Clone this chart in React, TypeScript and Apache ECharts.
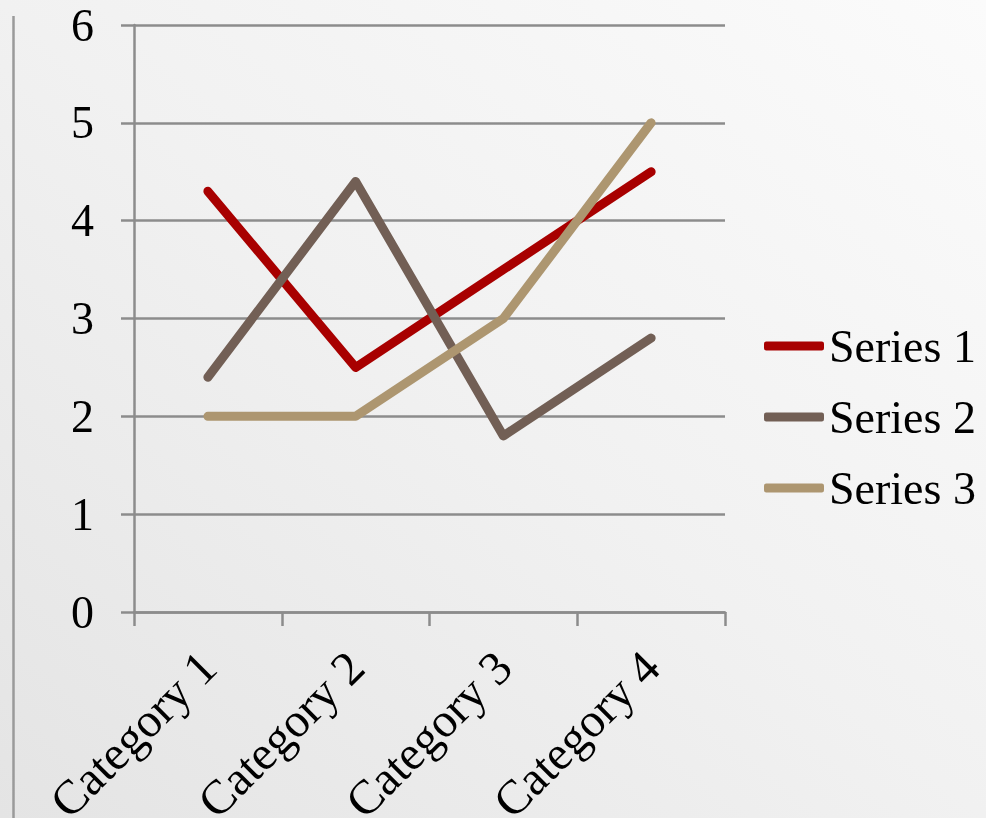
import React, { useEffect, useRef } from "react";
import * as echarts from "echarts";

const categories = ["Category 1", "Category 2", "Category 3", "Category 4"];
const series1 = [4.3, 2.5, 3.5, 4.5];
const series2 = [2.4, 4.4, 1.8, 2.8];
const series3 = [2, 2, 3, 5];
const seriesNames = ["Series 1", "Series 2", "Series 3"];
const seriesColors = ["#a80000", "#725f55", "#ad9670"];

const FONT = "'Liberation Serif', 'Times New Roman', serif";
const AXIS_GRAY = "#8c8c8c";

export default function App() {
  const ref = useRef<HTMLDivElement>(null);

  useEffect(() => {
    if (!ref.current) return;
    const chart = echarts.init(ref.current, undefined, { renderer: "svg" });
    const values = [series1, series2, series3];

    chart.setOption({
      animation: false,
      graphic: [
        {
          type: "rect",
          z: -10,
          silent: true,
          shape: { x: 0, y: 0, width: 986, height: 818 },
          style: {
            fill: new echarts.graphic.LinearGradient(1, 0, 0, 1, [
              { offset: 0, color: "#fbfbfb" },
              { offset: 0.5, color: "#f1f1f1" },
              { offset: 1, color: "#e4e4e4" },
            ]),
          },
        },
        {
          type: "line",
          silent: true,
          shape: { x1: 13.5, y1: 16, x2: 13.5, y2: 818 },
          style: { stroke: "#9a9a9a", lineWidth: 2.5 },
        },
      ],
      grid: {
        left: 134,
        right: 261,
        top: 25,
        bottom: 206,
        containLabel: false,
        outerBoundsMode: "none",
      },
      legend: {
        orient: "vertical",
        left: 764,
        top: 323,
        padding: 0,
        itemWidth: 60,
        itemHeight: 9,
        itemGap: 25,
        data: seriesNames.map((n, i) => ({
          name: n,
          icon: "roundRect",
          itemStyle: { color: seriesColors[i] },
        })),
        textStyle: { fontFamily: FONT, fontSize: 46, color: "#000" },
      },
      xAxis: {
        type: "category",
        data: categories,
        boundaryGap: true,
        axisLine: { show: true, lineStyle: { color: AXIS_GRAY, width: 2.5 } },
        axisTick: { show: true, length: 14, lineStyle: { color: AXIS_GRAY, width: 2.5 } },
        axisLabel: {
          rotate: 45,
          margin: 47,
          fontFamily: FONT,
          fontSize: 48,
          color: "#000",
          interval: 0,
        },
        splitLine: { show: false },
      },
      yAxis: {
        type: "value",
        min: 0,
        max: 6,
        interval: 1,
        axisLine: { show: true, lineStyle: { color: AXIS_GRAY, width: 2.5 } },
        axisTick: { show: true, length: 13, lineStyle: { color: AXIS_GRAY, width: 2.5 } },
        axisLabel: { margin: 40, fontFamily: FONT, fontSize: 46, color: "#000" },
        splitLine: { show: true, lineStyle: { color: AXIS_GRAY, width: 2.5 } },
      },
      series: seriesNames.map((name, i) => ({
        name,
        type: "line",
        data: values[i],
        symbol: "none",
        lineStyle: { color: seriesColors[i], width: 9, cap: "round", join: "round" },
        itemStyle: { color: seriesColors[i] },
      })),
    });

    return () => chart.dispose();
  }, []);

  return (
    <div
      ref={ref}
      style={{ position: "fixed", left: 0, top: 0, width: 986, height: 818 }}
    />
  );
}
